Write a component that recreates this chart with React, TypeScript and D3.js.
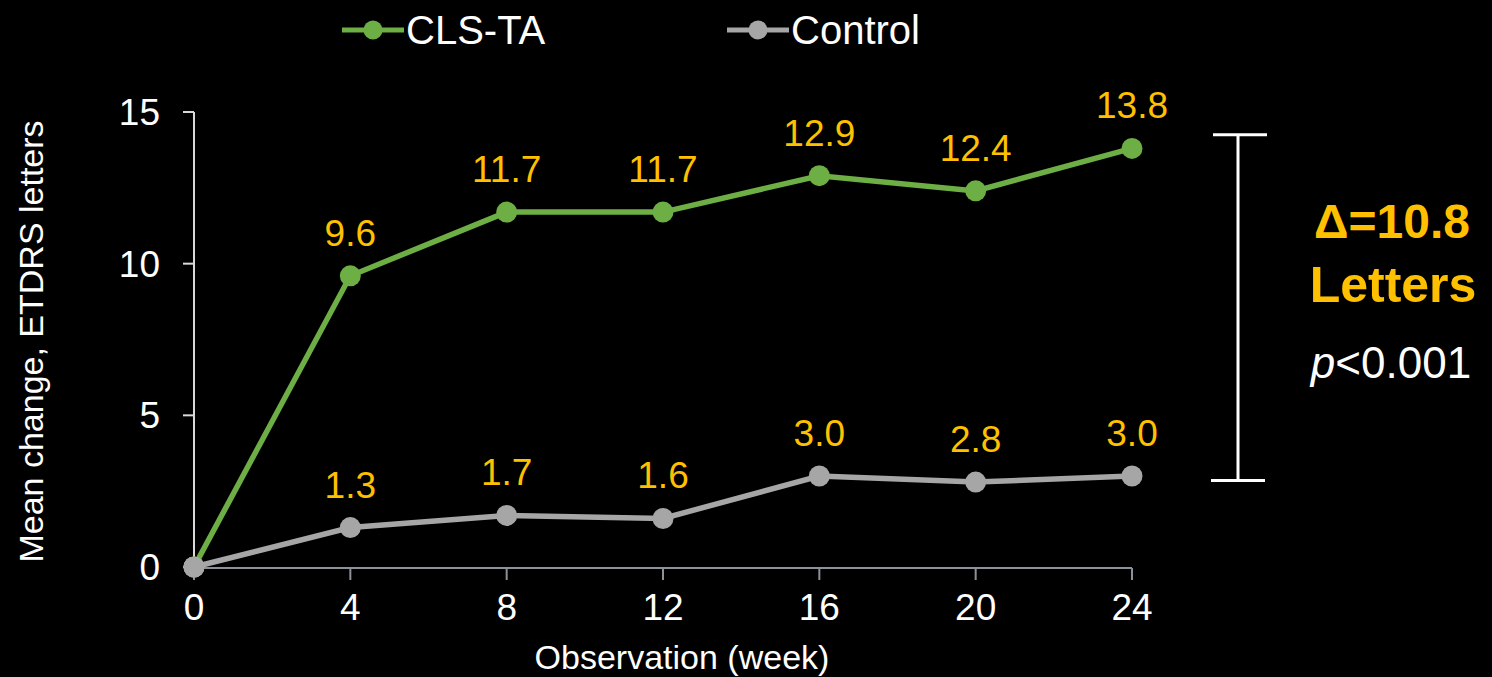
import React from "react";
import * as d3 from "d3";

const weeks = [0, 4, 8, 12, 16, 20, 24];
const clsTA = [0, 9.6, 11.7, 11.7, 12.9, 12.4, 13.8];
const control = [0, 1.3, 1.7, 1.6, 3.0, 2.8, 3.0];
const yTicks = [0, 5, 10, 15];
const seriesNames = ["CLS-TA", "Control"];
const bracketRange = [2.85, 14.25];
const deltaText = "Δ=10.8";
const lettersText = "Letters";

const W = 1492;
const H = 677;
const FONT = "'Liberation Sans', Arial, sans-serif";
const GREEN = "#6DAE45";
const GRAY = "#A6A6A6";
const YELLOW = "#FFC000";

export default function App() {
  const x = d3.scaleLinear().domain([0, 24]).range([194, 1132]);
  const y = d3.scaleLinear().domain([0, 15]).range([567, 112]);
  const line = d3
    .line<number>()
    .x((_, i) => x(weeks[i]))
    .y((d) => y(d));

  const series = [
    { name: seriesNames[0], values: clsTA, color: GREEN },
    { name: seriesNames[1], values: control, color: GRAY },
  ];

  const legendItems = [
    { name: seriesNames[0], color: GREEN, x0: 342 },
    { name: seriesNames[1], color: GRAY, x0: 727 },
  ];

  const bx = 1238;
  const bTop = y(bracketRange[1]);
  const bBot = y(bracketRange[0]);

  return (
    <div style={{ position: "fixed", left: 0, top: 0, width: W, height: H, background: "#000" }}>
      <svg width={W} height={H} style={{ display: "block" }} fontFamily={FONT}>
        <rect x={0} y={0} width={W} height={H} fill="#000" />

        {/* Legend */}
        {legendItems.map((l) => (
          <g key={l.name}>
            <line x1={l.x0} x2={l.x0 + 62} y1={30} y2={30} stroke={l.color} strokeWidth={5} />
            <circle cx={l.x0 + 31} cy={30} r={9.5} fill={l.color} />
            <text x={l.x0 + 64} y={44} fill="#fff" fontSize={40}>
              {l.name}
            </text>
          </g>
        ))}

        {/* Y axis */}
        <line x1={194} x2={194} y1={y(15)} y2={y(0)} stroke="#D9D9D9" strokeWidth={2} />
        {yTicks.map((t) => (
          <g key={t}>
            <line x1={183} x2={194} y1={y(t)} y2={y(t)} stroke="#D9D9D9" strokeWidth={2} />
            <text x={160} y={y(t)} dy="0.35em" textAnchor="end" fill="#fff" fontSize={37}>
              {t}
            </text>
          </g>
        ))}

        {/* X axis */}
        <line x1={x(0)} x2={x(24)} y1={y(0) + 1} y2={y(0) + 1} stroke="#8B929B" strokeWidth={2} />
        {weeks.map((w) => (
          <g key={w}>
            <line x1={x(w)} x2={x(w)} y1={y(0) + 1} y2={y(0) + 13} stroke="#8B929B" strokeWidth={2} />
            <text x={x(w)} y={620} textAnchor="middle" fill="#fff" fontSize={37}>
              {w}
            </text>
          </g>
        ))}

        <text x={682} y={669} textAnchor="middle" fill="#fff" fontSize={34}>
          Observation (week)
        </text>
        <text
          transform={`translate(43, ${(y(0) + y(15)) / 2 + 2}) rotate(-90)`}
          textAnchor="middle"
          fill="#fff"
          fontSize={34}
        >
          Mean change, ETDRS letters
        </text>

        {/* Series */}
        {series.map((s) => (
          <g key={s.name}>
            <path d={line(s.values) || ""} fill="none" stroke={s.color} strokeWidth={5.5} />
            {s.values.map((v, i) => (
              <circle key={i} cx={x(weeks[i])} cy={y(v)} r={10.5} fill={s.color} />
            ))}
          </g>
        ))}
        {/* Overlap at origin: gray marker on top */}
        <circle cx={x(0)} cy={y(control[0])} r={10.5} fill={GRAY} />

        {/* Data labels */}
        {series.map((s) =>
          s.values.map((v, i) =>
            i === 0 ? null : (
              <text
                key={s.name + i}
                x={x(weeks[i])}
                y={y(v) - 30}
                textAnchor="middle"
                fill={YELLOW}
                fontSize={37}
              >
                {v.toFixed(1)}
              </text>
            )
          )
        )}

        {/* Bracket */}
        <line x1={bx} x2={bx} y1={bTop} y2={bBot} stroke="#fff" strokeWidth={3} />
        <line x1={bx - 25} x2={bx + 29} y1={bTop} y2={bTop} stroke="#fff" strokeWidth={3} />
        <line x1={bx - 27} x2={bx + 27} y1={bBot} y2={bBot} stroke="#fff" strokeWidth={3} />

        <text x={1392} y={238} textAnchor="middle" fill={YELLOW} fontSize={48} fontWeight="bold">
          {deltaText}
        </text>
        <text x={1393} y={302} textAnchor="middle" fill={YELLOW} fontSize={50} fontWeight="bold">
          {lettersText}
        </text>
        <text x={1391} y={378} textAnchor="middle" fill="#fff" fontSize={44}>
          <tspan fontStyle="italic">p</tspan>
          <tspan>&lt;0.001</tspan>
        </text>
      </svg>
    </div>
  );
}
